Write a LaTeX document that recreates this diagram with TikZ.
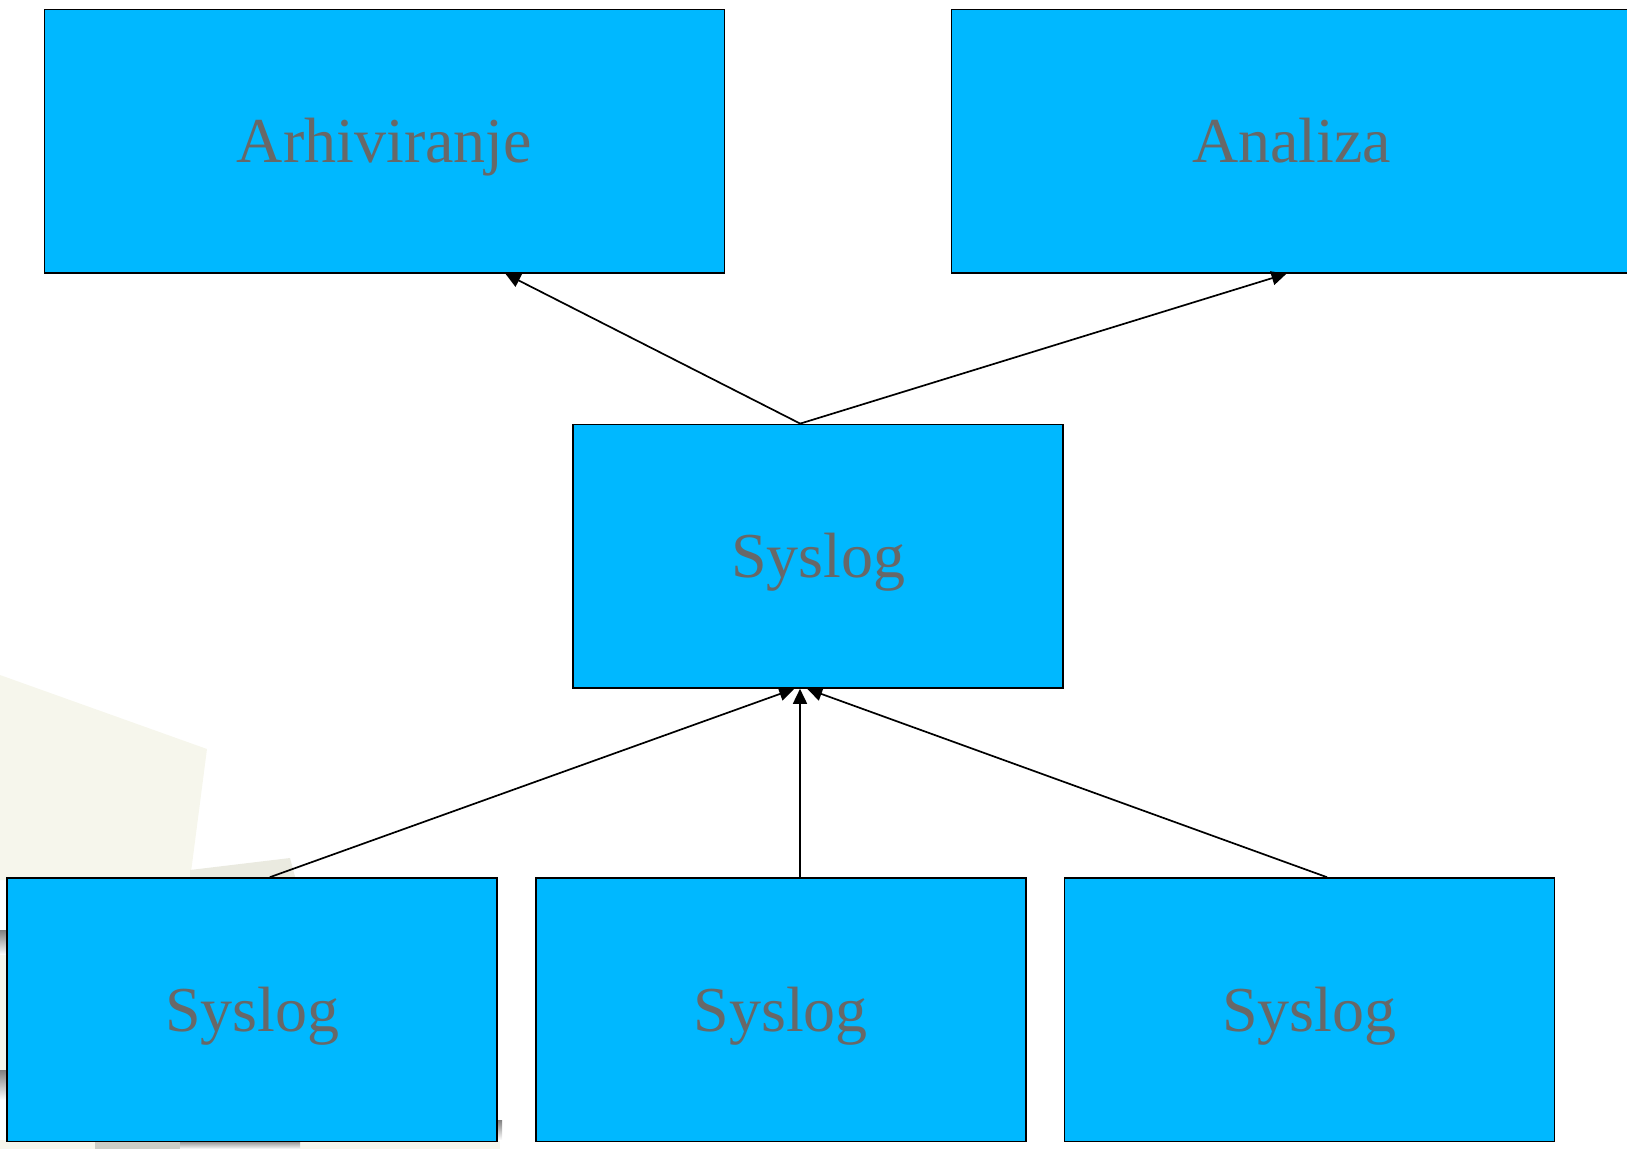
\documentclass[tikz,border=0pt]{standalone}
\usepackage{fontspec}
\setmainfont{Liberation Serif}
\usetikzlibrary{arrows.meta}
\definecolor{boxblue}{RGB}{0,184,255}
\definecolor{labelgray}{RGB}{104,104,104}
\definecolor{paper}{RGB}{246,246,236}
\definecolor{shade}{RGB}{226,226,216}
\definecolor{shadedark}{RGB}{205,205,197}
\tikzset{
  box/.style={draw=black, line width=1.6pt, fill=boxblue, rectangle, inner sep=0pt,
    minimum width=680pt, minimum height=263.6pt,
    font=\fontsize{64}{70}\selectfont, text=labelgray,
    text height=42.5pt, text depth=0pt},
  smallbox/.style={box, minimum width=490pt},
  flow/.style={draw=black, line width=1.7pt, -{Triangle[length=15pt,width=14pt]}}
}
\begin{document}
\begin{tikzpicture}[x=1pt,y=-1pt]
\useasboundingbox (0,0) rectangle (1627,1149);
% faint background sheets behind the lower left corner
\fill[paper] (0,675) -- (207,749) -- (190,880) -- (0,880) -- cycle;
\fill[shade!60!paper] (190,870) -- (290,858) -- (296,880) -- (190,880) -- cycle;
\fill[shade] (0,930) rectangle (8,955);
\fill[paper] (0,955) rectangle (8,1070);
\fill[shade] (0,1070) rectangle (8,1100);
\fill[paper] (0,1140) rectangle (500,1149);
\fill[shadedark] (95,1140) rectangle (180,1149);
\fill[shade] (180,1140) rectangle (300,1149);
\fill[shade] (497,1120) rectangle (502,1140);

% boxes
\node[box] (arh) at (384.4,141.1) {Arhiviranje};
\node[box] (ana) at (1291.5,141.1) {Analiza};
\node[smallbox] (mid) at (818.2,556.2) {Syslog};
\node[smallbox] (bl) at (252.2,1009.8) {Syslog};
\node[smallbox] (bm) at (780.8,1009.8) {Syslog};
\node[smallbox] (br) at (1309.5,1009.8) {Syslog};

% upward flows
\draw[flow] ([xshift=-18pt]mid.north) -- ([xshift=121pt]arh.south);
\draw[flow] ([xshift=-18pt]mid.north) -- ([xshift=-5pt]ana.south);
\draw[flow] ([xshift=17.6pt]bl.north) -- ([xshift=-24pt]mid.south);
\draw[flow] ([xshift=19.2pt]bm.north) -- ([xshift=-18.2pt]mid.south);
\draw[flow] ([xshift=17.5pt]br.north) -- ([xshift=-11pt]mid.south);
\end{tikzpicture}
\end{document}
